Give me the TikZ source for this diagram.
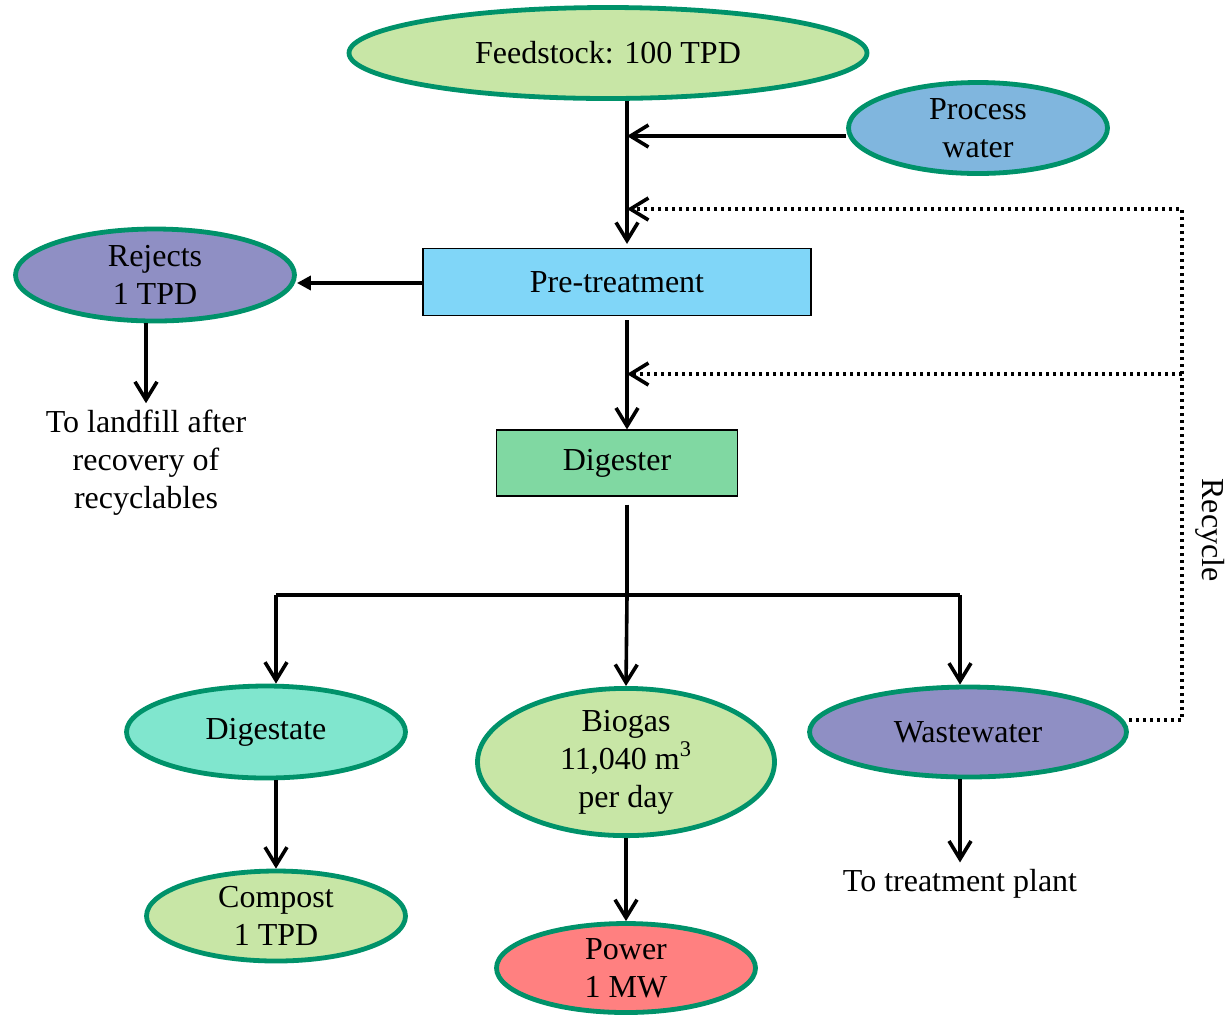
\documentclass[tikz,border=0pt]{standalone}
\usepackage{fontspec}
\setmainfont{Liberation Serif}
\usepackage{tikz}
\usetikzlibrary{shapes,arrows.meta,positioning}

\definecolor{rim}{RGB}{0,146,106}
\definecolor{leaf}{RGB}{200,230,166}
\definecolor{sky}{RGB}{128,182,222}
\definecolor{lilac}{RGB}{143,143,196}
\definecolor{cyanbox}{RGB}{128,214,248}
\definecolor{mintbox}{RGB}{128,216,162}
\definecolor{aqua}{RGB}{128,230,206}
\definecolor{salmon}{RGB}{255,128,128}

\begin{document}
\begin{tikzpicture}[
    x=0.5pt, y=-0.5pt,
    every node/.style={font=\fontsize{16}{19}\selectfont, align=center},
    blob/.style={ellipse, draw=rim, line width=2.4pt, inner sep=0pt},
    box/.style={rectangle, draw, line width=0.6pt, inner sep=0pt},
    arrow/.style={-{Straight Barb[length=9pt,width=11pt]}, line width=1.8pt},
    recycle/.style={-{Straight Barb[length=9pt,width=11pt]}, line width=1.8pt, dash pattern=on 1.6pt off 1.9pt}
]
\useasboundingbox (0,0) rectangle (1229,1014);

% nodes
\node[blob, fill=leaf, minimum width=259pt, minimum height=45.5pt] (feed) at (608,53) {Feedstock: 100 TPD};
\node[blob, fill=sky, minimum width=129.5pt, minimum height=45.5pt] (water) at (978,128) {Process\\water};
\node[box, fill=cyanbox, minimum width=194pt, minimum height=33.5pt] (pre) at (617,282) {Pre-treatment};
\node[blob, fill=lilac, minimum width=139.5pt, minimum height=46pt] (rejects) at (155,275) {Rejects\\1 TPD};
\node (landfill) at (146,463) {To landfill after\\recovery of\\recyclables};
\node[box, fill=mintbox, minimum width=120.5pt, minimum height=33pt] (digester) at (617,463) {Digester};
\node[blob, fill=aqua, minimum width=139.5pt, minimum height=46pt] (digestate) at (266,732) {Digestate};
\node[blob, fill=leaf, minimum width=148.5pt, minimum height=71pt] (biogas) at (626,762) {Biogas\\11,040 m\textsuperscript{3}\\per day};
\node[blob, fill=lilac, minimum width=158.5pt, minimum height=45pt] (waste) at (968,732) {Wastewater};
\node[blob, fill=leaf, minimum width=129.5pt, minimum height=45pt] (compost) at (276,916) {Compost\\1 TPD};
\node[blob, fill=salmon, minimum width=129.5pt, minimum height=44.5pt] (power) at (626,968) {Power\\1 MW};
\node (treat) at (960,884) {To treatment plant};
\node[rotate=-90] (recyclelabel) at (1210,530) {Recycle};

% helper points
\coordinate (trunk) at (627,0);
\coordinate (pwin) at ([yshift=-4pt]water.west);
\coordinate (rjin) at ([yshift=-0.5pt]pre.west);
\coordinate (rcout) at ([yshift=6pt]waste.east);
\coordinate (rtop) at (1182,209);
\coordinate (rmid) at (1182,374);
\coordinate (split) at (627,595);

% connectors
\draw[arrow, shorten >=2pt] (feed.south -| trunk) -- (pre.north -| trunk);
\draw[arrow] (pwin) -- (pwin -| trunk);
\draw[-{Triangle[length=7pt,width=7pt]}, line width=1.8pt] (rjin) -- (rjin -| rejects.east);
\draw[arrow] (rejects.south -| landfill) -- (landfill.north);
\draw[arrow, shorten <=2pt] (pre.south -| trunk) -- (digester.north -| trunk);
\draw[line width=1.8pt, shorten <=4pt] (digester.south -| trunk) -- (split);
\draw[line width=1.8pt] (split -| compost) -- (split -| treat);
\draw[arrow] (split -| compost) -- (compost |- digestate.north);
\draw[arrow] (split) -- (biogas.north);
\draw[arrow] (split -| treat) -- (treat |- waste.north);
\draw[arrow] (compost |- digestate.south) -- (compost.north);
\draw[arrow] (biogas.south) -- (power.north);
\draw[arrow] (treat |- waste.south) -- (treat.north);
\draw[recycle] (rcout) -- (rcout -| rtop) -- (rtop) -- (rtop -| trunk);
\draw[recycle] (rmid) -- (rmid -| trunk);
\end{tikzpicture}
\end{document}
